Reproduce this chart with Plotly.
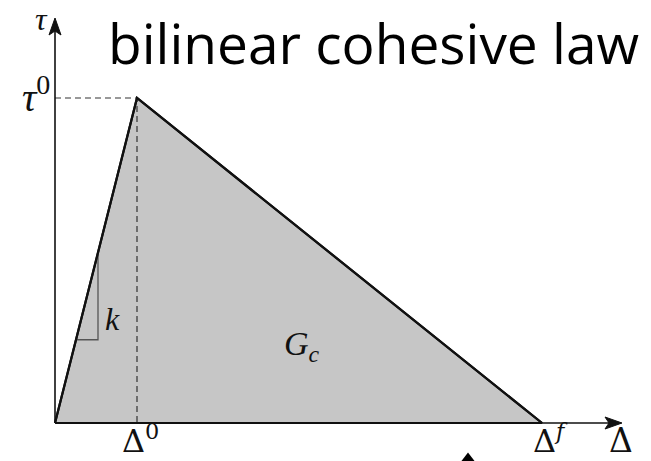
import plotly.graph_objects as go

# Bilinear traction-separation law (separation in units of 100 px-equivalent)
delta_pts = [0.0, 0.82, 4.87]      # 0, Δ0, Δf
tau_pts = [0.0, 3.25, 0.0]         # 0, τ0, 0
delta0, tau0, deltaf = delta_pts[1], tau_pts[1], delta_pts[2]

# stiffness triangle on the elastic branch
k_x = [0.21, 0.43]
k_y = [(0.21 / delta0) * tau0, (0.43 / delta0) * tau0]

x_rng = [-0.55, 5.96]
y_rng = [-0.38, 4.23]

fig = go.Figure()

# shaded area G_c
fig.add_trace(go.Scatter(
    x=delta_pts + [delta_pts[0]], y=tau_pts + [tau_pts[0]],
    fill="toself", fillcolor="#c6c6c6", mode="lines",
    line=dict(color="#111111", width=2.2), hoverinfo="skip", showlegend=False))

# stiffness triangle
fig.add_trace(go.Scatter(
    x=[k_x[0], k_x[1], k_x[1]], y=[k_y[0], k_y[0], k_y[1]],
    mode="lines", line=dict(color="#555555", width=1.3),
    hoverinfo="skip", showlegend=False))

# dashed guides to the peak
fig.add_trace(go.Scatter(
    x=[0, delta0, delta0], y=[tau0, tau0, 0], mode="lines",
    line=dict(color="#333333", width=1.2, dash="6px,4px"),
    hoverinfo="skip", showlegend=False))

# redraw the peak edges over the guides
fig.add_trace(go.Scatter(
    x=delta_pts, y=tau_pts, mode="lines",
    line=dict(color="#111111", width=2.2), hoverinfo="skip", showlegend=False))

# coordinate axes with arrowheads
x_end, y_end = 5.67, 4.05
hl, hw = 0.17, 0.06   # arrowhead length / half-width (data units)
fig.add_shape(type="line", x0=0, y0=0, x1=x_end - 0.05, y1=0,
              line=dict(color="#111111", width=1.6))
fig.add_shape(type="line", x0=0, y0=0, x1=0, y1=y_end - 0.05,
              line=dict(color="#111111", width=1.6))
fig.add_shape(type="path",
              path=f"M {x_end},0 L {x_end - hl},{hw} L {x_end - hl + 0.04},0 "
                   f"L {x_end - hl},{-hw} Z",
              fillcolor="#111111", line=dict(color="#111111", width=1))
fig.add_shape(type="path",
              path=f"M 0,{y_end} L {hw},{y_end - hl} L 0,{y_end - hl + 0.04} "
                   f"L {-hw},{y_end - hl} Z",
              fillcolor="#111111", line=dict(color="#111111", width=1))

serif = "Liberation Serif"
# (x, y, text, size, font, yanchor)
labels = [
    (-0.14, y_rng[1], "<i>τ</i>", 32, serif, "top"),
    (-0.19, 3.29, "<i>τ</i><sup>0</sup>", 40, serif, "middle"),
    (delta0 + 0.03, y_rng[0], "Δ<sup>0</sup>", 32, "DejaVu Serif", "bottom"),
    (deltaf + 0.08, y_rng[0], "Δ<sup><i>f</i></sup>", 32, "DejaVu Serif", "bottom"),
    (5.66, y_rng[0], "Δ", 33, "DejaVu Serif", "bottom"),
    (0.57, 1.04, "<i>k</i>", 32, serif, "middle"),
    (2.47, 0.77, "<i>G<sub>c</sub></i>", 34, serif, "middle"),
]
for x, y, t, s, fam, ya in labels:
    fig.add_annotation(x=x, y=y, xref="x", yref="y", text=t, showarrow=False,
                       yanchor=ya, borderpad=0,
                       font=dict(family=fam, size=s, color="#111111"))

# title
fig.add_annotation(x=373 / 651, y=1 - 42 / 461, xref="paper", yref="paper",
                   xanchor="center", yanchor="middle",
                   text="bilinear cohesive law", showarrow=False,
                   font=dict(family="Open Sans", size=55, color="#000000"))

# small pointer at the bottom
fig.add_trace(go.Scatter(
    x=[4.13], y=[-0.38], mode="markers",
    marker=dict(symbol="triangle-up", size=17, color="#000000"),
    hoverinfo="skip", showlegend=False))

fig.update_xaxes(range=x_rng, visible=False, fixedrange=True)
fig.update_yaxes(range=y_rng, visible=False, fixedrange=True)
fig.update_layout(width=651, height=461, margin=dict(l=0, r=0, t=0, b=0),
                  plot_bgcolor="white", paper_bgcolor="white", showlegend=False)

fig.write_html("out.html")
